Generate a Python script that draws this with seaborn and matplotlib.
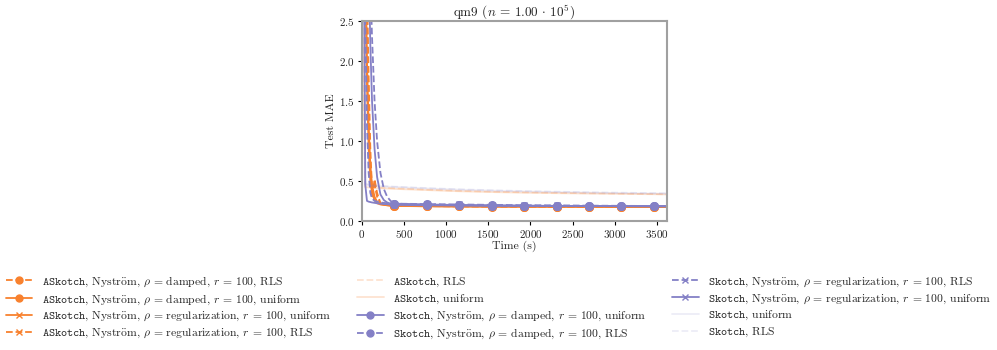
import matplotlib
matplotlib.use("Agg")
import matplotlib.pyplot as plt
from matplotlib.lines import Line2D
import seaborn as sns
import pandas as pd

sns.set_style("ticks")
plt.rcParams["font.family"] = ["cmr10", "DejaVu Serif"]
plt.rcParams["mathtext.fontset"] = "cm"
plt.rcParams["axes.formatter.use_mathtext"] = True
plt.rcParams["axes.unicode_minus"] = False

ORANGE = "#F8812E"
PURPLE = "#8480C6"

times = [0, 40, 60, 80, 100, 120, 150, 180, 220, 260, 300, 340,
         385, 770, 1155, 1540, 1925, 2310, 2695, 3080, 3465, 3620]

ask_damped_rls = [6.0, 4.0, 2.6, 1.4, 0.6, 0.28, 0.52, 0.35, 0.22, 0.205, 0.2, 0.195,
                  0.19, 0.185, 0.182, 0.18, 0.178, 0.177, 0.176, 0.175, 0.174, 0.173]
ask_damped_uni = [6.0, 3.5, 2.0, 1.2, 0.7, 0.45, 0.3, 0.24, 0.21, 0.2, 0.195, 0.19,
                  0.188, 0.183, 0.18, 0.178, 0.177, 0.176, 0.175, 0.174, 0.173, 0.172]
ask_reg_uni = [6.0, 3.0, 1.7, 0.9, 0.5, 0.35, 0.26, 0.22, 0.205, 0.2, 0.195, 0.19,
               0.187, 0.182, 0.18, 0.178, 0.177, 0.176, 0.175, 0.174, 0.173, 0.172]
ask_reg_rls = [6.0, 4.5, 2.9, 1.8, 0.9, 0.4, 0.45, 0.3, 0.22, 0.205, 0.2, 0.195,
               0.19, 0.185, 0.182, 0.18, 0.178, 0.177, 0.176, 0.175, 0.174, 0.173]
ask_rls = [3.0, 0.43, 0.43, 0.425, 0.425, 0.42, 0.42, 0.418, 0.416, 0.414, 0.412, 0.41,
           0.408, 0.39, 0.375, 0.365, 0.357, 0.35, 0.345, 0.34, 0.335, 0.333]
ask_uni = [3.0, 0.42, 0.42, 0.418, 0.416, 0.414, 0.412, 0.41, 0.408, 0.406, 0.404, 0.402,
           0.4, 0.385, 0.37, 0.36, 0.352, 0.346, 0.341, 0.337, 0.333, 0.33]
sk_damped_uni = [8.0, 6.0, 4.5, 3.2, 2.2, 1.5, 0.9, 0.55, 0.33, 0.26, 0.23, 0.215,
                 0.21, 0.2, 0.195, 0.19, 0.188, 0.186, 0.185, 0.184, 0.183, 0.182]
sk_damped_rls = [8.0, 7.0, 5.5, 4.2, 3.0, 2.3, 1.5, 1.0, 0.6, 0.4, 0.3, 0.25,
                 0.215, 0.205, 0.198, 0.193, 0.19, 0.188, 0.186, 0.185, 0.184, 0.183]
sk_reg_rls = [8.0, 2.5, 1.2, 0.6, 0.35, 0.28, 0.25, 0.24, 0.23, 0.225, 0.22, 0.22,
              0.215, 0.21, 0.205, 0.2, 0.196, 0.194, 0.19, 0.188, 0.186, 0.185]
sk_reg_uni = [8.0, 0.45, 0.25, 0.24, 0.235, 0.23, 0.225, 0.22, 0.215, 0.21, 0.208, 0.205,
              0.2, 0.195, 0.192, 0.19, 0.188, 0.186, 0.185, 0.184, 0.183, 0.182]
sk_uni = [9.0, 0.46, 0.45, 0.445, 0.44, 0.438, 0.436, 0.434, 0.432, 0.43, 0.428, 0.426,
          0.424, 0.405, 0.39, 0.378, 0.368, 0.36, 0.353, 0.347, 0.342, 0.34]
sk_rls = [9.0, 0.47, 0.46, 0.455, 0.45, 0.447, 0.444, 0.441, 0.438, 0.435, 0.432, 0.43,
          0.428, 0.41, 0.395, 0.383, 0.373, 0.365, 0.358, 0.352, 0.347, 0.345]

A = r"$\mathtt{ASkotch}$"
S = r"$\mathtt{Skotch}$"
NY = r", Nystr$\ddot{\mathrm{o}}$m, $\rho$ = "
series = [
    (A + NY + r"damped, $r$ = 100, RLS", ask_damped_rls, ORANGE, "--", "o", 1.0),
    (A + NY + r"damped, $r$ = 100, uniform", ask_damped_uni, ORANGE, "-", "o", 1.0),
    (A + NY + r"regularization, $r$ = 100, uniform", ask_reg_uni, ORANGE, "-", "x", 1.0),
    (A + NY + r"regularization, $r$ = 100, RLS", ask_reg_rls, ORANGE, "--", "x", 1.0),
    (A + ", RLS", ask_rls, ORANGE, "--", None, 0.22),
    (A + ", uniform", ask_uni, ORANGE, "-", None, 0.22),
    (S + NY + r"damped, $r$ = 100, uniform", sk_damped_uni, PURPLE, "-", "o", 1.0),
    (S + NY + r"damped, $r$ = 100, RLS", sk_damped_rls, PURPLE, "--", "o", 1.0),
    (S + NY + r"regularization, $r$ = 100, RLS", sk_reg_rls, PURPLE, "--", "x", 1.0),
    (S + NY + r"regularization, $r$ = 100, uniform", sk_reg_uni, PURPLE, "-", "x", 1.0),
    (S + ", uniform", sk_uni, PURPLE, "-", None, 0.15),
    (S + ", RLS", sk_rls, PURPLE, "--", None, 0.15),
]

fig = plt.figure(figsize=(9.97, 3.5), dpi=100)
ax = fig.add_axes([0.363, 0.369, 0.306, 0.571])

marker_idx = list(range(12, 21))
handles, labels = [], []
for label, vals, color, ls, mk, alpha in series:
    df = pd.DataFrame({"t": times, "mae": vals})
    ms = 5.5 if mk == "o" else 4.5
    kw = dict(x="t", y="mae", data=df, ax=ax, color=color, linestyle=ls,
              linewidth=1.3, alpha=alpha)
    if mk is not None:
        kw.update(marker=mk, markevery=marker_idx, markersize=ms,
                  markeredgecolor=color, markeredgewidth=1.0)
    sns.lineplot(**kw)
    handles.append(Line2D([], [], color=color, linestyle=ls, linewidth=1.3, alpha=alpha,
                          marker=mk, markersize=ms - 0.5, markeredgecolor=color,
                          markeredgewidth=1.0))
    labels.append(label)

ax.set_xlim(0, 3620)
ax.set_ylim(0, 2.5)
ax.set_xticks([0, 500, 1000, 1500, 2000, 2500, 3000, 3500])
ax.set_yticks([0.0, 0.5, 1.0, 1.5, 2.0, 2.5])
ax.set_title(r"qm9 ($n$ = 1.00 $\cdot$ $10^5$)", fontsize=9.5, pad=1.5)
ax.set_xlabel("Time (s)", fontsize=8.5, labelpad=1)
ax.set_ylabel("Test MAE", fontsize=8.5, labelpad=2)
ax.tick_params(labelsize=8, length=3, width=0.8, pad=2, color="black")
for sp in ax.spines.values():
    sp.set_color("#A0A0A0")
    sp.set_linewidth(1.5)

fig.legend(handles, labels, loc="upper center", bbox_to_anchor=(0.5, 0.246), ncol=3,
           frameon=False, fontsize=8.4, labelspacing=0.3, handlelength=2.3,
           handletextpad=0.8, columnspacing=2.2)

fig.savefig("out.png", dpi=100)
